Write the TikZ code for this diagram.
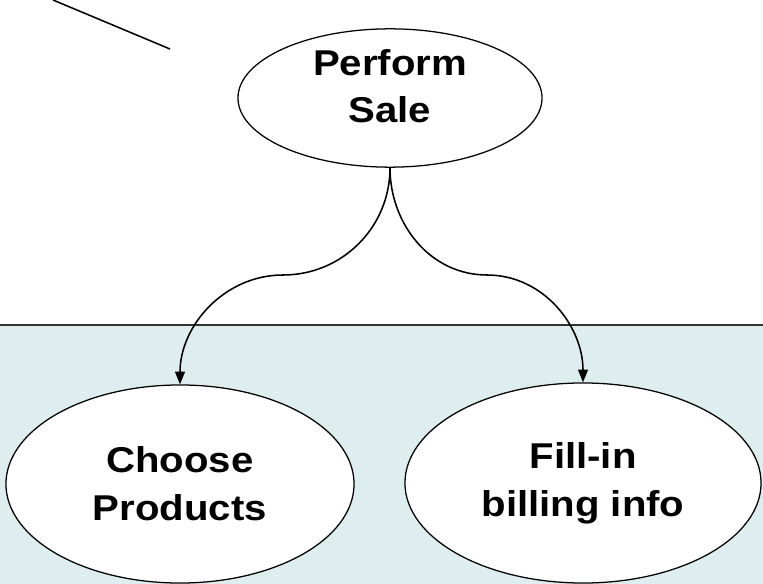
\documentclass[tikz,border=0pt]{standalone}
\usepackage{fontspec}
\setmainfont{Liberation Sans}[FakeStretch=1.12]
\usetikzlibrary{arrows.meta, shapes.geometric}

\definecolor{lanefill}{RGB}{222,238,238}
\definecolor{laneline}{RGB}{50,50,50}

\begin{document}
\begin{tikzpicture}[
    x=0.025cm, y=-0.025cm,
    >={Triangle[length=9pt, width=7pt]},
    usecase/.style={ellipse, draw, fill=white, line width=0.9pt, inner sep=0pt,
        align=center, font=\fontsize{25.5}{34}\selectfont\bfseries},
    flow/.style={->, line width=1.1pt}
]
    \useasboundingbox (0,0) rectangle (763,584);

    % --- Faixa inferior ---
    \fill[lanefill] (0,325) rectangle (763,584);
    \draw[laneline, line width=1pt] (0,325) -- (763,325);

    % --- Linha do ator (fora da figura) ---
    \coordinate (actor) at (53,0);
    \coordinate (actorend) at (170,49);
    \draw[line width=1.1pt] (actor) -- (actorend);

    % --- Casos de uso ---
    \node[usecase, minimum width=7.6cm, minimum height=3.2cm, text depth=0.6cm]
        (perform) at (390,98) {Perform\\Sale};
    \node[usecase, minimum width=8.7cm, minimum height=4.95cm]
        (choose) at (180,484) {Choose\\Products};
    \node[usecase, minimum width=8.9cm, minimum height=5cm]
        (fillin) at (583,483) {Fill-in\\billing info};

    % --- Pontos de curvatura ---
    \coordinate (lbend) at (283,275);
    \coordinate (rbend) at (487,275);

    % --- Conexões ---
    \draw[flow] (perform.south) to[out=-90, in=0] (lbend)
        to[out=180, in=90] (choose.north);
    \draw[flow] (perform.south) to[out=-90, in=180] (rbend)
        to[out=0, in=90] (fillin.north);

\end{tikzpicture}
\end{document}
